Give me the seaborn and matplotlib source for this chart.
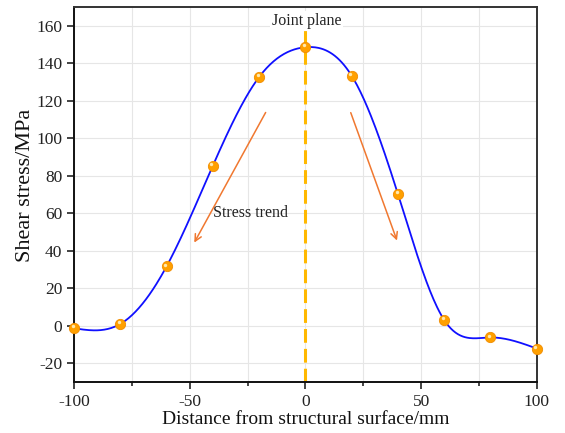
import numpy as np
import pandas as pd
import matplotlib
matplotlib.use("Agg")
import matplotlib.pyplot as plt
import seaborn as sns
from matplotlib.ticker import MultipleLocator

distance = [-100, -80, -60, -40, -20, 0, 20, 40, 60, 80, 100]
stress = [-1.4, 0.9, 31.6, 85.3, 132.6, 148.5, 133.3, 70.2, 3.0, -6.3, -12.2]
x_ticks = [-100, -50, 0, 50, 100]
y_ticks = [-20, 0, 20, 40, 60, 80, 100, 120, 140, 160]


def natural_spline(x, y, xs):
    x = np.asarray(x, float)
    y = np.asarray(y, float)
    n = len(x)
    h = np.diff(x)
    A = np.zeros((n, n))
    b = np.zeros(n)
    A[0, 0] = 1
    A[-1, -1] = 1
    for i in range(1, n - 1):
        A[i, i - 1] = h[i - 1]
        A[i, i] = 2 * (h[i - 1] + h[i])
        A[i, i + 1] = h[i]
        b[i] = 3 * ((y[i + 1] - y[i]) / h[i] - (y[i] - y[i - 1]) / h[i - 1])
    c = np.linalg.solve(A, b)
    out = np.empty_like(xs)
    for k, xv in enumerate(xs):
        i = min(max(np.searchsorted(x, xv) - 1, 0), n - 2)
        dx = xv - x[i]
        bi = (y[i + 1] - y[i]) / h[i] - h[i] * (2 * c[i] + c[i + 1]) / 3
        di = (c[i + 1] - c[i]) / (3 * h[i])
        out[k] = y[i] + bi * dx + c[i] * dx ** 2 + di * dx ** 3
    return out


sns.set_style("white")
plt.rcParams["font.family"] = ["Liberation Serif", "DejaVu Serif"]
plt.rcParams["axes.unicode_minus"] = False

fig = plt.figure(figsize=(5.65, 4.33), dpi=100)
ax = fig.add_axes([0.131, 0.118, 0.819, 0.866])

xs = np.linspace(min(distance), max(distance), 400)
curve = pd.DataFrame({"x": xs, "y": natural_spline(distance, stress, xs)})
pts = pd.DataFrame({"x": distance, "y": stress})

ax.axvline(0, color="#FFB800", lw=2.2, ls=(0, (4.5, 2)), zorder=2)
sns.lineplot(data=curve, x="x", y="y", ax=ax, color="#1010FF", lw=1.3, zorder=3)
sns.scatterplot(data=pts, x="x", y="y", ax=ax, s=55, color="#FFA000",
                edgecolor="#F08C00", linewidth=0.6, zorder=4, clip_on=False)
ax.scatter(np.array(distance) - 0.6, np.array(stress) + 1.0, s=6, color="#FFE9B0",
           zorder=5, linewidths=0, clip_on=False)

arrow_kw = dict(arrowstyle="->", color="#F07830", lw=1.1, mutation_scale=12)
ax.annotate("", xy=(-48.6, 43), xytext=(-16.6, 115), arrowprops=arrow_kw)
ax.annotate("", xy=(40, 44), xytext=(19.2, 115), arrowprops=arrow_kw)
ax.text(-40, 60, "Stress trend", fontsize=11.5, va="center", ha="left", color="#222222")
ax.text(0.5, 162.3, "Joint plane", fontsize=11.5, va="center", ha="center", color="#222222",
        zorder=6, bbox=dict(facecolor="white", edgecolor="none", pad=1.5))

ax.set_xlim(-100, 100)
ax.set_ylim(-30, 170)
ax.set_xticks(x_ticks)
ax.set_yticks(y_ticks)
ax.xaxis.set_minor_locator(MultipleLocator(25))
ax.grid(True, which="both", color="#E6E6E6", lw=0.8)
ax.set_axisbelow(True)
ax.tick_params(axis="both", which="major", direction="out", length=5, width=1.2,
               labelsize=12.5, colors="#222222", bottom=True, left=True)
ax.tick_params(axis="x", which="minor", direction="out", length=3, width=1.2, bottom=True)
ax.set_xlabel("Distance from structural surface/mm", fontsize=14, color="#111111", labelpad=1)
ax.set_ylabel("Shear stress/MPa", fontsize=16, color="#111111")
ax.yaxis.set_label_coords(-0.085, 0.525)
for side in ["left", "bottom"]:
    ax.spines[side].set_color("#111111")
    ax.spines[side].set_linewidth(1.4)
for side in ["top", "right"]:
    ax.spines[side].set_color("#333333")
    ax.spines[side].set_linewidth(1.4)

fig.savefig("out.png", dpi=100)
